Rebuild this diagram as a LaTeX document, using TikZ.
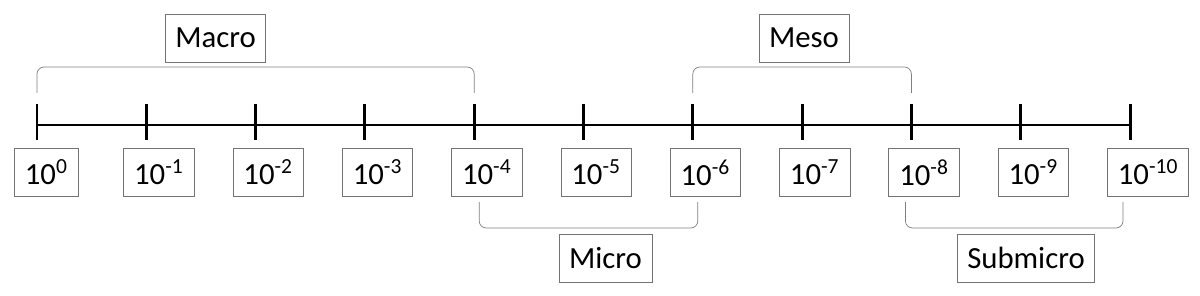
\documentclass[tikz,border=0pt]{standalone}
\usepackage{fontspec}
\setmainfont{Carlito}
\usetikzlibrary{positioning,calc}
\begin{document}
\begin{tikzpicture}[x=0.02cm,y=-0.02cm,
        font=\fontsize{17.5}{20}\selectfont,
        axis/.style={line width=1.7pt,black},
        numbox/.style={draw=black!55,thin,anchor=west,minimum height=0.96cm,inner xsep=0.21cm},
        groupbox/.style={draw=black!55,thin,minimum height=0.96cm,inner xsep=0.2cm},
        brace/.style={draw=black!50,thin,rounded corners=4pt}]
    \useasboundingbox (0,0) rectangle (1200,296);
    % scale axis with ticks and labels
    \foreach \i in {0,...,10}{
        \pgfmathsetmacro{\x}{37+109.3*\i}
        \coordinate (t\i) at (\x,125);
        \draw[axis] (\x,104) -- (\x,140);
        \node[numbox] (l\i) at (\x-23,172.5) {10\textsuperscript{\ifnum\i=0 0\else -\i\fi}};
    }
    \draw[axis] (t0) -- (t10);
    % ranges above
    \node[groupbox] (macro) at (215.5,38) {Macro};
    \node[groupbox] (meso) at (804,38) {Meso};
    \draw[brace] ($(t0)+(0,-32)$) |- ($(t4)+(0,-58)$) -- ($(t4)+(0,-32)$);
    \draw[brace] ($(t6)+(0,-32)$) |- ($(t8)+(0,-58)$) -- ($(t8)+(0,-32)$);
    % ranges below
    \node[groupbox] (micro) at (605.5,258) {Micro};
    \node[groupbox] (submicro) at (1026,258) {Submicro};
    \draw[brace] ($(t4)+(5,77)$) |- ($(t6)+(5,103)$) -- ($(t6)+(5,77)$);
    \draw[brace] ($(t8)+(-6,77)$) |- ($(t10)+(-7,103)$) -- ($(t10)+(-7,77)$);
\end{tikzpicture}
\end{document}
